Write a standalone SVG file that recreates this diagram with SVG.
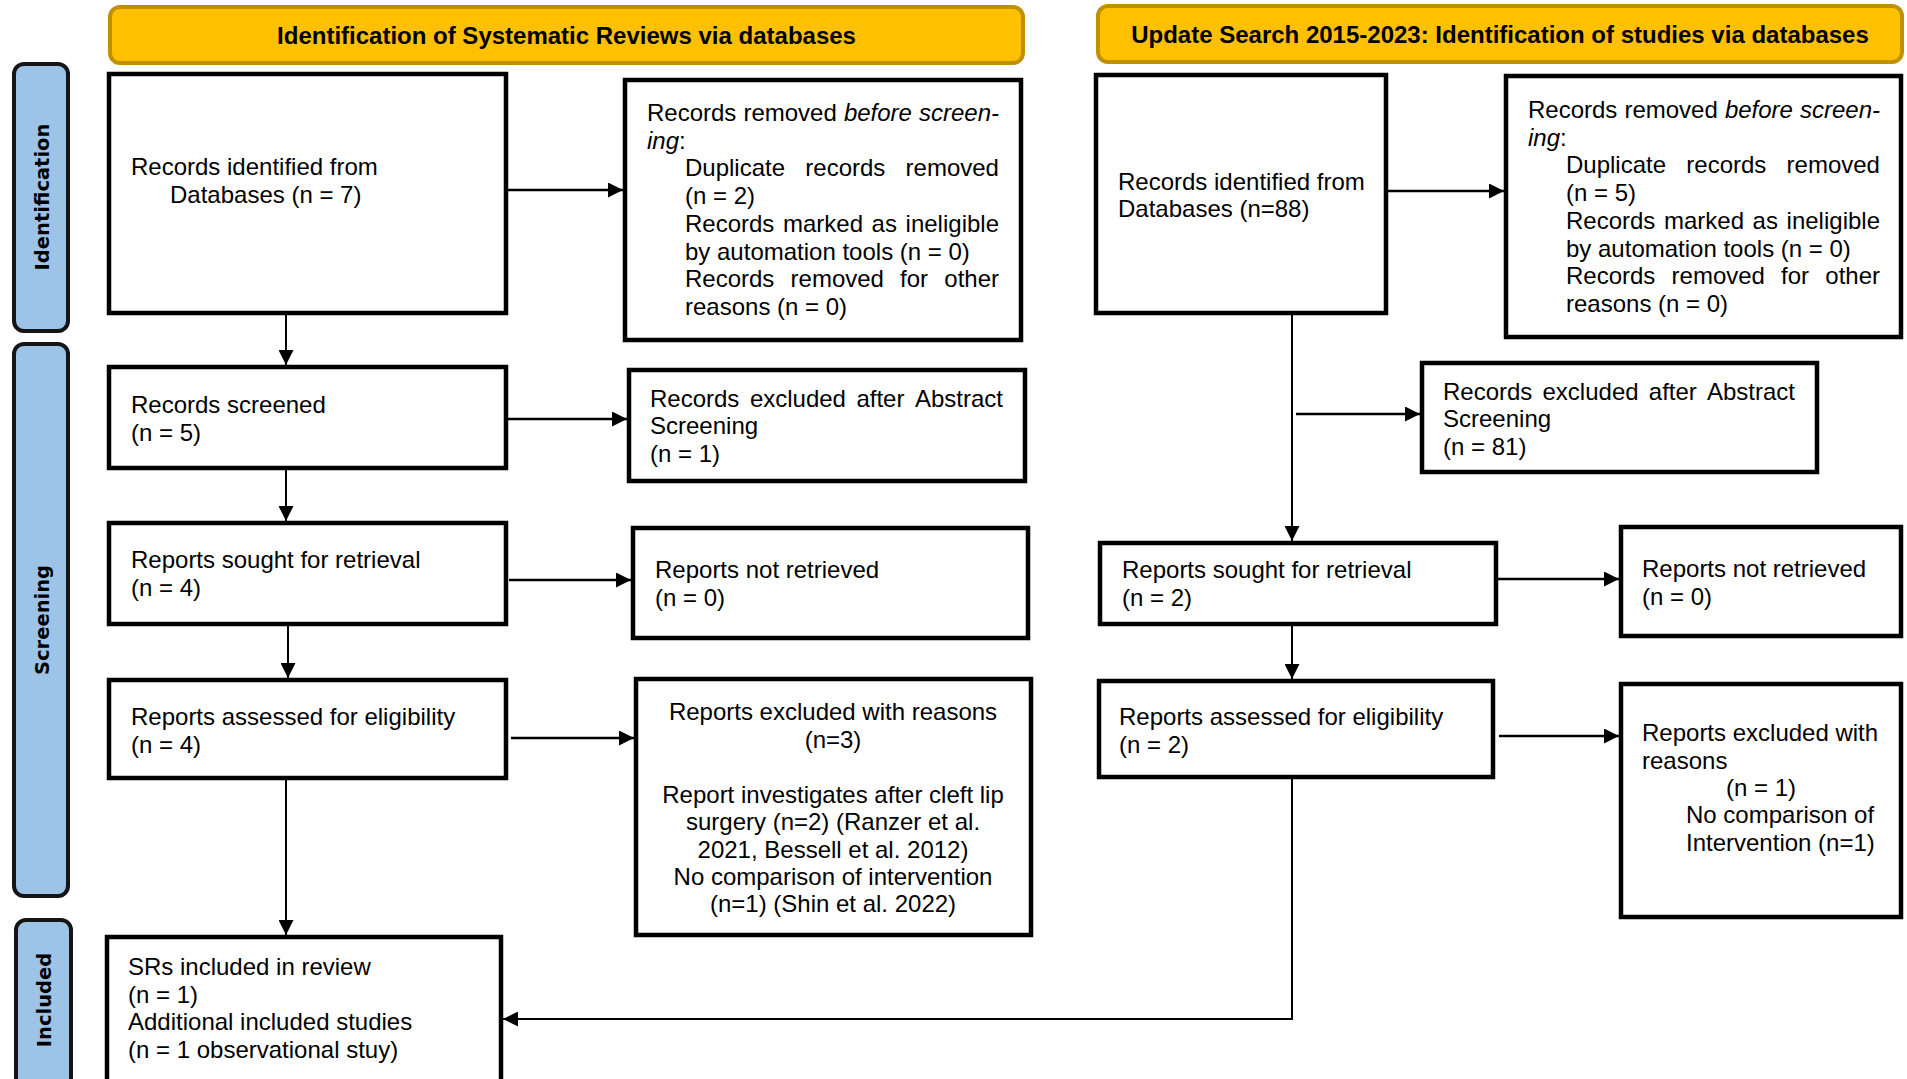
<svg xmlns="http://www.w3.org/2000/svg" width="1907" height="1079" viewBox="0 0 1907 1079">
  <style>
    text { font-family: "Liberation Sans", Arial, sans-serif; font-size: 24px; fill: #000; }
    .box { fill: #fff; stroke: #000; stroke-width: 4.5; }
    .head { fill: #FFC000; stroke: #BF9000; stroke-width: 4; }
    .headtxt { font-weight: bold; text-anchor: middle; }
    .side { fill: #9DC3E6; stroke: #151515; stroke-width: 4; }
    .sidetxt { font-family: "DejaVu Sans", Verdana, sans-serif; font-weight: bold; font-size: 19.5px; text-anchor: middle; dominant-baseline: central; }
    .it { font-style: italic; }
    .mid { text-anchor: middle; }
    .v { fill: none; stroke: #000; stroke-width: 2; }
    .h { fill: none; stroke: #000; stroke-width: 2.5; }
  </style>
  <defs>
    <marker id="arrow" markerUnits="userSpaceOnUse" markerWidth="15" markerHeight="15" refX="15" refY="7.5" orient="auto">
      <path d="M0,0 L15,7.5 L0,15 Z" fill="#000"/>
    </marker>
  </defs>

  <rect width="1907" height="1079" fill="#fff"/>

  <!-- Column headers -->
  <g id="header-left">
    <rect class="head" x="110" y="7" width="913" height="56" rx="10"/>
    <text class="headtxt" x="566.5" y="44">Identification of Systematic Reviews via databases</text>
  </g>
  <g id="header-right">
    <rect class="head" x="1098" y="6" width="804" height="56" rx="10"/>
    <text class="headtxt" x="1500" y="43">Update Search 2015-2023: Identification of studies via databases</text>
  </g>

  <!-- Phase labels -->
  <g id="phase-identification">
    <rect class="side" x="14" y="64" width="54" height="267" rx="10"/>
    <text class="sidetxt" transform="translate(42,197) rotate(-90)">Identification</text>
  </g>
  <g id="phase-screening">
    <rect class="side" x="14" y="344" width="54" height="552" rx="10"/>
    <text class="sidetxt" transform="translate(42,620) rotate(-90)">Screening</text>
  </g>
  <g id="phase-included">
    <rect class="side" x="16" y="920" width="55" height="175" rx="10"/>
    <text class="sidetxt" transform="translate(44,1000) rotate(-90)">Included</text>
  </g>

  <!-- Connectors -->
  <g id="connectors">
    <line class="h" x1="508" y1="190" x2="623" y2="190" marker-end="url(#arrow)"/>
    <line class="v" x1="286" y1="315" x2="286" y2="365" marker-end="url(#arrow)"/>
    <line class="h" x1="508" y1="419" x2="627" y2="419" marker-end="url(#arrow)"/>
    <line class="v" x1="286" y1="470" x2="286" y2="521" marker-end="url(#arrow)"/>
    <line class="h" x1="509" y1="580" x2="631" y2="580" marker-end="url(#arrow)"/>
    <line class="v" x1="288" y1="626" x2="288" y2="678" marker-end="url(#arrow)"/>
    <line class="h" x1="511" y1="738" x2="634" y2="738" marker-end="url(#arrow)"/>
    <line class="v" x1="286" y1="780" x2="286" y2="935" marker-end="url(#arrow)"/>

    <line class="h" x1="1388" y1="191" x2="1504" y2="191" marker-end="url(#arrow)"/>
    <line class="v" x1="1292" y1="315" x2="1292" y2="541" marker-end="url(#arrow)"/>
    <line class="h" x1="1296" y1="414" x2="1420" y2="414" marker-end="url(#arrow)"/>
    <line class="h" x1="1498" y1="579" x2="1619" y2="579" marker-end="url(#arrow)"/>
    <line class="v" x1="1292" y1="626" x2="1292" y2="679" marker-end="url(#arrow)"/>
    <line class="h" x1="1499" y1="736" x2="1619" y2="736" marker-end="url(#arrow)"/>
    <polyline class="v" points="1292,779 1292,1019 503,1019" marker-end="url(#arrow)"/>
  </g>

  <!-- Left column: systematic reviews -->
  <g id="sr-identified">
    <rect class="box" x="109" y="74" width="397" height="239"/>
    <text x="131" y="175">Records identified from</text>
    <text x="170" y="203">Databases (n = 7)</text>
  </g>
  <g id="sr-removed">
    <rect class="box" x="625" y="80" width="396" height="260"/>
    <text y="121"><tspan x="647">Records</tspan><tspan x="743.4">removed</tspan><tspan class="it" x="843.9">before</tspan><tspan class="it" x="919">screen-</tspan></text>
    <text x="647" y="148.7"><tspan class="it">ing</tspan>:</text>
    <text y="176.4"><tspan x="685">Duplicate</tspan><tspan x="805.3">records</tspan><tspan x="905.6">removed</tspan></text>
    <text x="685" y="204.1">(n = 2)</text>
    <text y="231.8"><tspan x="685">Records</tspan><tspan x="783">marked</tspan><tspan x="871.6">as</tspan><tspan x="905.6">ineligible</tspan></text>
    <text x="685" y="259.5">by automation tools (n = 0)</text>
    <text y="287.2"><tspan x="685">Records</tspan><tspan x="790.6">removed</tspan><tspan x="900.1">for</tspan><tspan x="944.3">other</tspan></text>
    <text x="685" y="314.9">reasons (n = 0)</text>
  </g>
  <g id="sr-screened">
    <rect class="box" x="109" y="367" width="397" height="101"/>
    <text x="131" y="413">Records screened</text>
    <text x="131" y="441">(n = 5)</text>
  </g>
  <g id="sr-excluded-abstract">
    <rect class="box" x="629" y="370" width="396" height="111"/>
    <text y="407"><tspan x="650">Records</tspan><tspan x="749.9">excluded</tspan><tspan x="856.4">after</tspan><tspan x="915">Abstract</tspan></text>
    <text x="650" y="434">Screening</text>
    <text x="650" y="462">(n = 1)</text>
  </g>
  <g id="sr-sought">
    <rect class="box" x="109" y="523" width="397" height="101"/>
    <text x="131" y="568">Reports sought for retrieval</text>
    <text x="131" y="596">(n = 4)</text>
  </g>
  <g id="sr-not-retrieved">
    <rect class="box" x="633" y="528" width="395" height="110"/>
    <text x="655" y="578">Reports not retrieved</text>
    <text x="655" y="606">(n = 0)</text>
  </g>
  <g id="sr-assessed">
    <rect class="box" x="109" y="680" width="397" height="98"/>
    <text x="131" y="725">Reports assessed for eligibility</text>
    <text x="131" y="753">(n = 4)</text>
  </g>
  <g id="sr-excluded-reasons">
    <rect class="box" x="636" y="679" width="395" height="256"/>
    <text class="mid" x="833" y="720">Reports excluded with reasons</text>
    <text class="mid" x="833" y="748">(n=3)</text>
    <text class="mid" x="833" y="803">Report investigates after cleft lip</text>
    <text class="mid" x="833" y="830">surgery (n=2) (Ranzer et al.</text>
    <text class="mid" x="833" y="858">2021, Bessell et al. 2012)</text>
    <text class="mid" x="833" y="885">No comparison of intervention</text>
    <text class="mid" x="833" y="912">(n=1) (Shin et al. 2022)</text>
  </g>
  <g id="included">
    <rect class="box" x="107" y="937" width="394" height="160"/>
    <text x="128" y="975">SRs included in review</text>
    <text x="128" y="1003">(n = 1)</text>
    <text x="128" y="1030">Additional included studies</text>
    <text x="128" y="1058">(n = 1 observational stuy)</text>
  </g>

  <!-- Right column: update search -->
  <g id="upd-identified">
    <rect class="box" x="1096" y="75" width="290" height="238"/>
    <text x="1118" y="190">Records identified from</text>
    <text x="1118" y="217">Databases (n=88)</text>
  </g>
  <g id="upd-removed">
    <rect class="box" x="1506" y="76" width="395" height="261"/>
    <text y="118"><tspan x="1528">Records</tspan><tspan x="1624.4">removed</tspan><tspan class="it" x="1724.9">before</tspan><tspan class="it" x="1800">screen-</tspan></text>
    <text x="1528" y="145.7"><tspan class="it">ing</tspan>:</text>
    <text y="173.4"><tspan x="1566">Duplicate</tspan><tspan x="1686.3">records</tspan><tspan x="1786.6">removed</tspan></text>
    <text x="1566" y="201.1">(n = 5)</text>
    <text y="228.8"><tspan x="1566">Records</tspan><tspan x="1664">marked</tspan><tspan x="1752.6">as</tspan><tspan x="1786.6">ineligible</tspan></text>
    <text x="1566" y="256.5">by automation tools (n = 0)</text>
    <text y="284.2"><tspan x="1566">Records</tspan><tspan x="1671.6">removed</tspan><tspan x="1781.1">for</tspan><tspan x="1825.3">other</tspan></text>
    <text x="1566" y="311.9">reasons (n = 0)</text>
  </g>
  <g id="upd-excluded-abstract">
    <rect class="box" x="1422" y="363" width="395" height="109"/>
    <text y="400"><tspan x="1443">Records</tspan><tspan x="1542.5">excluded</tspan><tspan x="1648.8">after</tspan><tspan x="1707">Abstract</tspan></text>
    <text x="1443" y="427">Screening</text>
    <text x="1443" y="455">(n = 81)</text>
  </g>
  <g id="upd-sought">
    <rect class="box" x="1100" y="543" width="396" height="81"/>
    <text x="1122" y="578">Reports sought for retrieval</text>
    <text x="1122" y="606">(n = 2)</text>
  </g>
  <g id="upd-not-retrieved">
    <rect class="box" x="1621" y="527" width="280" height="109"/>
    <text x="1642" y="577">Reports not retrieved</text>
    <text x="1642" y="605">(n = 0)</text>
  </g>
  <g id="upd-assessed">
    <rect class="box" x="1099" y="681" width="394" height="96"/>
    <text x="1119" y="725">Reports assessed for eligibility</text>
    <text x="1119" y="753">(n = 2)</text>
  </g>
  <g id="upd-excluded-reasons">
    <rect class="box" x="1621" y="684" width="280" height="233"/>
    <text x="1642" y="741">Reports excluded with</text>
    <text x="1642" y="769">reasons</text>
    <text x="1726" y="796">(n = 1)</text>
    <text x="1686" y="823">No comparison of</text>
    <text x="1686" y="851">Intervention (n=1)</text>
  </g>
</svg>
